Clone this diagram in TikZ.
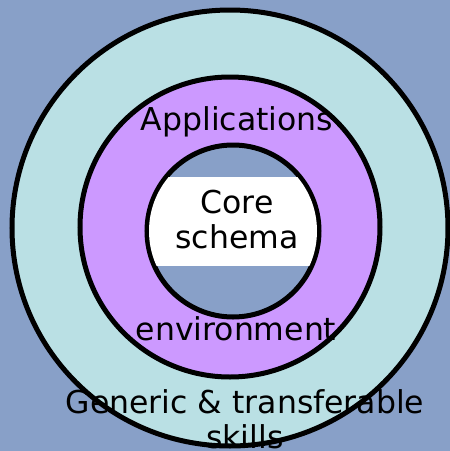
\documentclass[tikz,border=0pt]{standalone}
\usepackage{fontspec}
\setmainfont{DejaVu Sans}
\usepackage{xcolor}
\usepackage{tikz}
\usetikzlibrary{positioning}
\definecolor{bgblue}{RGB}{136,160,200}
\definecolor{skillcyan}{RGB}{186,224,228}
\definecolor{apppurple}{RGB}{204,153,255}
\tikzset{
    ring/.style={circle, draw=black, line width=5pt, inner sep=0pt},
    ringtext/.style={font=\fontsize{31.5}{35}\selectfont, align=center, inner sep=0pt, text=black}
}
\begin{document}
\begin{tikzpicture}[x=1pt, y=-1pt]
        % Background
        \fill[bgblue] (0,0) rectangle (450,451);
        \useasboundingbox (0,0) rectangle (450,451);

        % Rings
        \node[ring, fill=skillcyan, minimum size=436pt] (Skills) at (230,228) {};
        \node[ring, fill=apppurple, minimum size=300pt] (Apps) at (230,227) {};
        \node[ring, fill=bgblue, minimum size=172pt] (Core) at (233,231) {};

        % White band in the core
        \begin{scope}
            \clip (Core.center) circle (84pt);
            \fill[white] (140,177) rectangle (330,266);
        \end{scope}

        % Texts
        \node[ringtext, anchor=base] (AppsText) at (237,130) {Applications};
        \node[ringtext, anchor=base] (EnvText) at (236,340) {environment};
        \node[ringtext] (CoreText) at (237,219.5) {Core\\schema};
        \node[ringtext] (SkillsText) at (245,419) {Generic \& transferable\\skills};
    \end{tikzpicture}
\end{document}
